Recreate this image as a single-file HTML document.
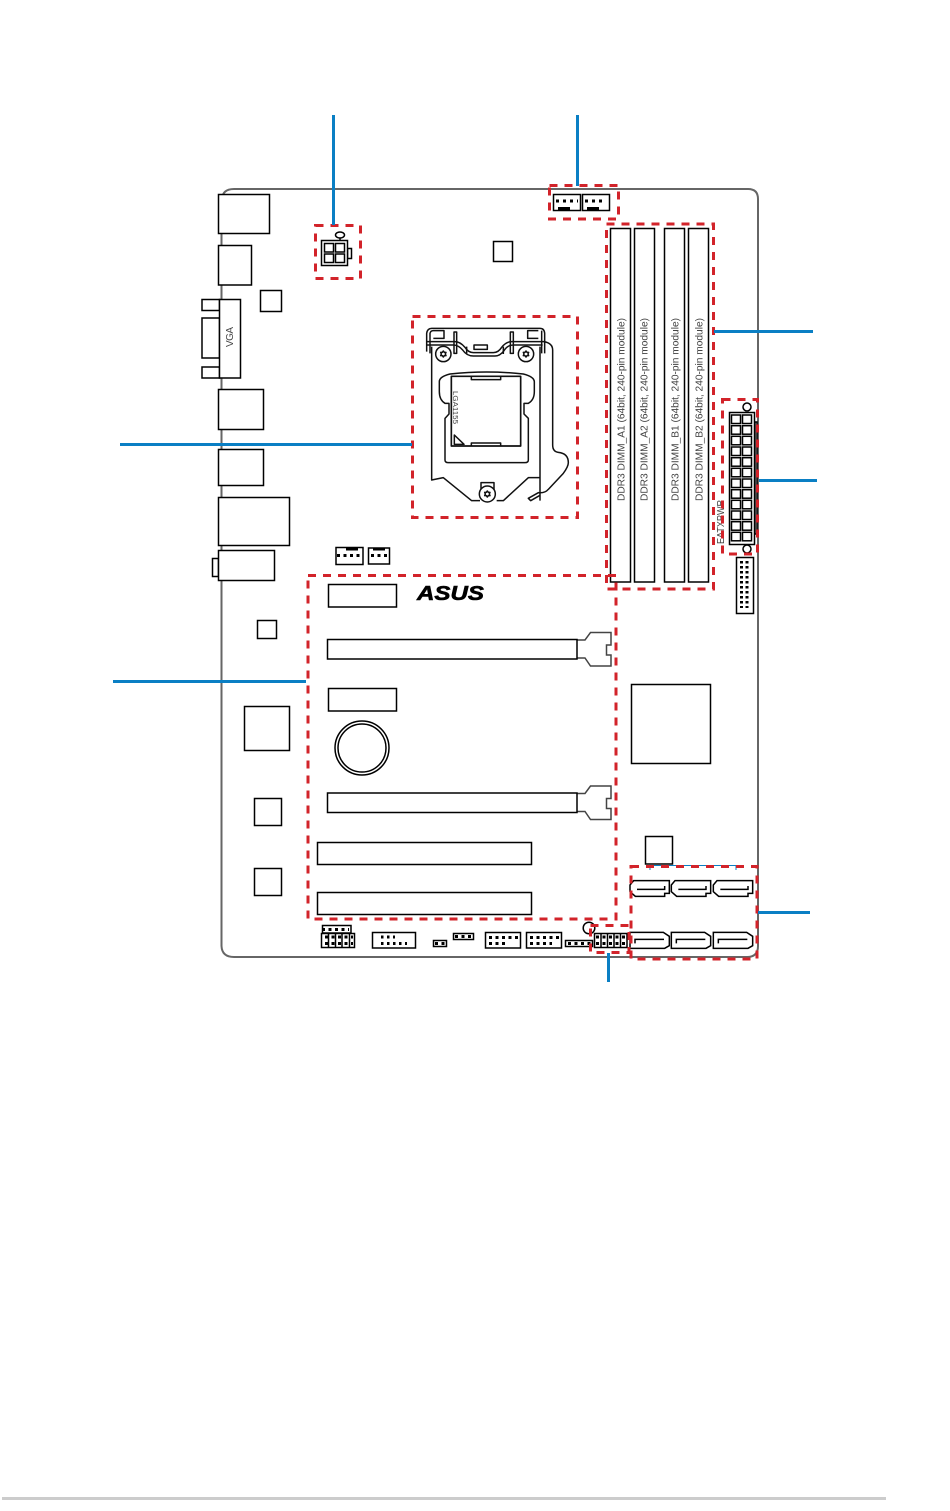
<!DOCTYPE html>
<html><head><meta charset="utf-8"><style>
html,body{margin:0;padding:0;background:#fff;width:950px;height:1511px;overflow:hidden}
svg{display:block}
text{font-family:"Liberation Sans",sans-serif}
</style></head><body>
<svg width="950" height="1511" viewBox="0 0 950 1511" xmlns="http://www.w3.org/2000/svg">
<rect x="2" y="1497" width="884" height="3" fill="#ccc"/>
<defs>
<g id="atx"><rect x="731.5" y="0" width="9" height="8.5"/><rect x="742.5" y="0" width="9" height="8.5"/></g>
<g id="sl"><path d="M577 640H585L590.5 632.5H611V645H606.5V655H611V666H590.5L585 658H577" stroke="#444" stroke-width="1.5"/><rect x="327.5" y="639.5" width="249.5" height="19.5"/></g>
<g id="sat"><path d="M0 13L11 0H118V38H104V47H16L0 33Z"/><path d="M21 26H104V16" fill="none"/></g>
<g id="sab"><path d="M0 0H100L118 12V40L104 48H0Z"/><path d="M15 33V21H102" fill="none"/></g>
<path id="star" d="M0 -9L3 -5L8 -5L6 0L8 5L3 5L0 9L-3 5L-8 5L-6 0L-8 -5L-3 -5Z"/>
</defs>
<!-- board -->
<path d="M222 200Q222 189 234 189H748Q758 189 758 199V946Q758 957 747 957H234Q222 957 221.500 946V194" fill="none" stroke="#666" stroke-width="2"/>
<g fill="#fff" stroke="#000" stroke-width="1.500">
<rect x="218.500" y="194.500" width="51" height="39"/>
<rect x="218.500" y="245.500" width="33" height="39.500"/>
<rect x="202" y="299.500" width="17.500" height="11"/><rect x="202" y="318" width="17.500" height="40"/><rect x="202" y="367" width="17.500" height="11"/>
<rect x="219.500" y="299.500" width="21" height="78.500"/>
<rect x="260.500" y="290.500" width="21" height="21"/>
<rect x="493.500" y="241.500" width="19" height="20"/>
<rect x="218.500" y="389.500" width="45" height="40"/>
<rect x="218.500" y="449.500" width="45" height="36"/>
<rect x="218.500" y="497.500" width="71" height="48"/>
<rect x="212.500" y="558.500" width="6" height="18"/>
<rect x="218.500" y="550.500" width="56" height="30"/>
<rect x="257.500" y="620.500" width="19" height="18"/>
<rect x="244.500" y="706.500" width="45" height="44"/>
<rect x="254.500" y="798.500" width="27" height="27"/>
<rect x="254.500" y="868.500" width="27" height="27"/>
<!-- fans -->
<rect x="553.500" y="194.500" width="27" height="16"/><rect x="582.500" y="194.500" width="27" height="16"/>
<rect x="336" y="547.500" width="27" height="17"/><rect x="368.500" y="548" width="21" height="16"/>
<!-- cpu power -->
<rect x="347.500" y="248.500" width="4" height="10"/>
<rect x="321.500" y="240.500" width="26" height="25"/>
<rect x="324.500" y="243.500" width="9" height="8.500"/><rect x="335.500" y="243.500" width="9" height="8.500"/>
<rect x="324.500" y="254" width="9" height="8.500"/><rect x="335.500" y="254" width="9" height="8.500"/>
<ellipse cx="340" cy="235" rx="4.500" ry="3"/><path d="M340 238V240"/>
<!-- dimms -->
<rect x="610.500" y="228.500" width="20" height="353.500"/>
<rect x="634.500" y="228.500" width="20" height="353.500"/>
<rect x="664.500" y="228.500" width="20" height="353.500"/>
<rect x="688.500" y="228.500" width="20" height="353.500"/>
<!-- atx -->
<rect x="755" y="422" width="2" height="112"/>
<circle cx="747" cy="407" r="4"/><circle cx="747" cy="549" r="4"/>
<rect x="729.500" y="412.500" width="25" height="132"/>
<use href="#atx" y="415"/><use href="#atx" y="425.700"/><use href="#atx" y="436.300"/><use href="#atx" y="447"/><use href="#atx" y="457.700"/><use href="#atx" y="468.300"/><use href="#atx" y="479"/><use href="#atx" y="489.700"/><use href="#atx" y="500.300"/><use href="#atx" y="511"/><use href="#atx" y="521.700"/><use href="#atx" y="532.300"/>
<rect x="736.500" y="557.500" width="17" height="56"/>
<!-- slots -->
<rect x="328.500" y="584.500" width="68" height="22.500"/>
<use href="#sl"/>
<rect x="328.500" y="688.500" width="68" height="22.500"/>
<circle cx="362" cy="748" r="27"/><circle cx="362" cy="748" r="24"/>
<use href="#sl" y="153.500"/>
<rect x="317.500" y="842.500" width="214" height="22"/>
<rect x="317.500" y="892.500" width="214" height="22"/>
<rect x="631.500" y="684.500" width="79" height="79"/>
<rect x="645.500" y="836.500" width="27" height="27.500"/>
<!-- bottom headers -->
<rect x="322.500" y="925.500" width="28.500" height="7.500"/>
<rect x="321.500" y="933.500" width="33" height="14"/>
<path d="M328.500 933.500V947.500M335.500 933.500V947.500M342 933.500V947.500M349.500 933.500V947.500"/>
<rect x="372.500" y="932.500" width="43" height="15.500"/>
<rect x="433.500" y="940.500" width="13" height="6"/>
<rect x="453.500" y="933.500" width="20" height="6"/>
<rect x="485.500" y="932.500" width="35" height="15.500"/>
<rect x="526.500" y="932.500" width="35" height="15.500"/>
<rect x="565.500" y="940.500" width="27" height="6"/>
<circle cx="589" cy="928" r="5.800"/>
<rect x="594.500" y="933.500" width="32.500" height="14"/>
<path d="M601 933.500V947.500M607.500 933.500V947.500M614 933.500V947.500M620.500 933.500V947.500"/>
</g>
<!-- sata -->
<g transform="translate(620 830) scale(.33333)" fill="#fff" stroke="#000" stroke-width="4.500">
<use href="#sat" x="30" y="152"/><use href="#sat" x="154" y="152"/><use href="#sat" x="280" y="152"/>
<use href="#sab" x="30" y="307"/><use href="#sab" x="154" y="307"/><use href="#sab" x="280" y="307"/>
</g>
<!-- labels -->
<g fill="#444" font-size="10">
<text transform="translate(233 347) rotate(-90)" textLength="20">VGA</text>
<text transform="translate(624.500 501) rotate(-90)" textLength="183" lengthAdjust="spacingAndGlyphs">DDR3 DIMM_A1 (64bit, 240-pin module)</text>
<text transform="translate(647.500 501) rotate(-90)" textLength="183" lengthAdjust="spacingAndGlyphs">DDR3 DIMM_A2 (64bit, 240-pin module)</text>
<text transform="translate(678.500 501) rotate(-90)" textLength="183" lengthAdjust="spacingAndGlyphs">DDR3 DIMM_B1 (64bit, 240-pin module)</text>
<text transform="translate(702.500 501) rotate(-90)" textLength="183" lengthAdjust="spacingAndGlyphs">DDR3 DIMM_B2 (64bit, 240-pin module)</text>
<text transform="translate(724 544) rotate(-90)" textLength="44" lengthAdjust="spacingAndGlyphs">EATXPWR</text>
<text transform="translate(453 391) rotate(90)" font-size="7.500" textLength="33" lengthAdjust="spacingAndGlyphs">LGA1155</text>
</g>
<text x="417" y="600" font-size="20" font-weight="bold" font-style="italic" fill="#000" stroke="#000" stroke-width=".6" textLength="67" lengthAdjust="spacingAndGlyphs">ASUS</text>
<!-- pins -->
<g fill="none" stroke="#000" stroke-width="3">
<path d="M556 201H578M585 201H606" stroke-dasharray="3 4"/>
<path d="M558 208.500H570M587 208.500H599"/>
<path d="M337 555.500H361M371 555.500H388" stroke-dasharray="3 3.500"/>
<path d="M346 549H358M373 549H385"/>
<path d="M741.500 561V608M747 561V608" stroke-dasharray="2.500 2.500"/>
<path d="M325 937H353M325 943.500H353M322 929.500H349" stroke-dasharray="3 3.500"/>
<path d="M381 937H395M381 943.500H407" stroke-dasharray="2.500 3.500"/>
<path d="M435 943.500H445M455 936.500H472M568 943.500H591" stroke-dasharray="3 3.500"/>
<path d="M489 937.500H519M489 943.500H506M530 937.500H560M530 943.500H552" stroke-dasharray="3 3.500"/>
<path d="M596 937H625M596 943.500H625" stroke-dasharray="3 3.500"/>
</g>
<!-- socket -->
<g transform="translate(400 310) scale(.33333)" fill="none" stroke="#111" stroke-width="4.500" stroke-linejoin="round">
<path d="M80 125V70Q82 55 95 55H420Q433 55 434 70V130"/>
<path d="M90 130V70Q92 62 100 62H132V85H100M415 62H383V85H415M425 62V130"/>
<path d="M95 110V510L130 503L215 572H240M290 572H310L385 503H420M420 110V572"/>
<path d="M78 95H165Q180 95 195 112Q205 128 220 128H280Q295 128 305 112Q318 95 335 95H432"/>
<path d="M78 105H160Q175 105 188 120Q200 138 220 138H285Q300 138 312 122Q322 105 340 105H428"/>
<path d="M162 66H170V130H162ZM331 66H340V130H331ZM222 105H262V118H222ZM310 110V132M200 110V132"/>
<path d="M432 95Q458 100 458 120V405Q458 425 475 427Q505 430 505 458Q505 470 490 490L445 538Q435 550 415 548L385 565L392 572L420 556"/>
<g fill="#fff"><circle cx="130" cy="132" r="23"/><circle cx="378" cy="132" r="23"/><path d="M243 552V518H282V552"/><circle cx="262" cy="552" r="24"/></g>
<use href="#star" x="130" y="132"/><use href="#star" x="378" y="132"/><use href="#star" x="262" y="552"/>
<path d="M118 215Q118 200 150 192Q260 180 370 192Q402 200 403 215V245Q403 270 385 280H372V312L385 325V450Q385 458 375 458H145Q135 458 135 450V325L147 312V280H135Q118 270 118 245Z"/>
<rect x="154" y="199" width="208" height="209" stroke-width="5"/>
<path d="M214 199V209H302V199M214 408V399H302V408M163 375V403H192Z"/>
</g>
<!-- thin blue -->
<path d="M650 870V865.500H736V870" fill="none" stroke="#0a7fc4" stroke-width="1"/>
<!-- red dashes -->
<g fill="none" stroke="#d2232a" stroke-width="3" stroke-dasharray="8 7">
<rect x="315.500" y="225.500" width="45" height="53"/>
<rect x="549.500" y="185.500" width="69" height="33.500"/>
<rect x="412.500" y="316.500" width="165" height="201"/>
<rect x="606.500" y="224" width="107" height="365"/>
<rect x="722.500" y="399.500" width="35" height="154.500"/>
<rect x="308" y="575.500" width="308" height="343.500"/>
<rect x="631" y="866.500" width="126" height="92.500"/>
<rect x="590.500" y="925.500" width="38.500" height="27"/>
</g>
<!-- blue leaders -->
<g stroke="#0a7fc4" stroke-width="3" fill="none">
<path d="M333.500 115V225M577.500 115V186M714 331.500H813M759 480.500H817M120 444.500H412M113 681.500H306M758 912.500H810M608.500 953V982"/>
</g>
</svg>
</body></html>
